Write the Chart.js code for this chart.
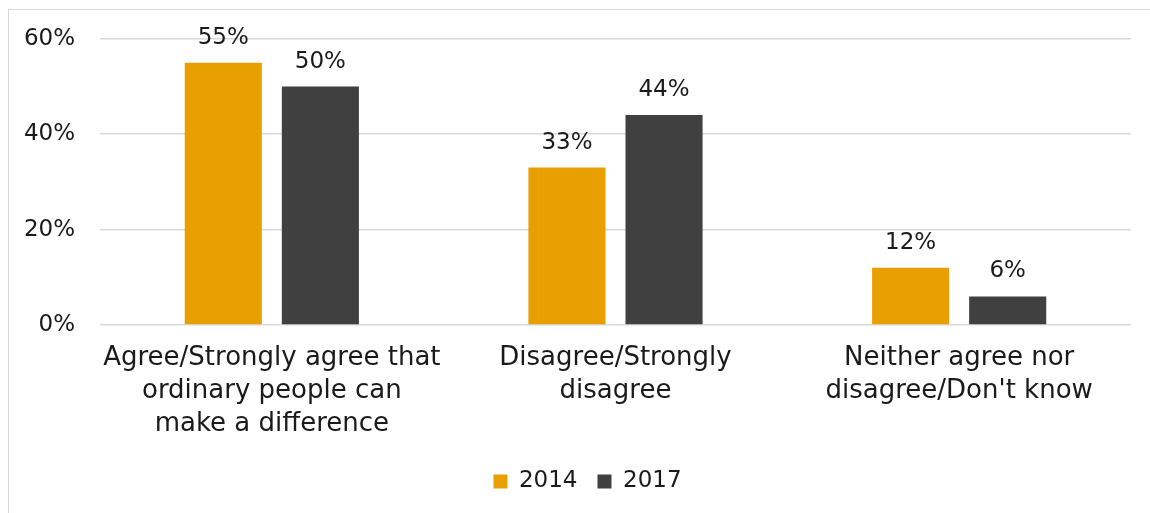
<!DOCTYPE html>
<html>
<head>
<meta charset="utf-8">
<title>Ordinary people can make a difference</title>
<script src="https://cdn.jsdelivr.net/npm/chart.js@4.4.1/dist/chart.umd.min.js"></script>
<style>
    html, body { margin: 0; padding: 0; background: #fff; overflow: hidden; width: 1150px; height: 513px; }
    .edge { position: absolute; background: #d9d9d9; }
    #edgeTop { left: 8px; top: 9px; width: 1142px; height: 1px; }
    #edgeLeft { left: 8px; top: 9px; width: 1px; height: 504px; }
    #wrap { position: absolute; left: 0; top: 0; width: 1150px; height: 513px; }
</style>
</head>
<body>
<div class="edge" id="edgeTop"></div>
<div class="edge" id="edgeLeft"></div>
<div id="wrap"><canvas id="barChart"></canvas></div>
<script>
    // categories and values (percent)
    var categories = [
        ['Agree/Strongly agree that', 'ordinary people can', 'make a difference'],
        ['Disagree/Strongly', 'disagree'],
        ['Neither agree nor', "disagree/Don't know"]
    ];
    var values2014 = [55, 33, 12];
    var values2017 = [50, 44, 6];
    var yTicks = [0, 20, 40, 60];

    var fontFamily = '"DejaVu Sans", sans-serif';

    // labels above each bar
    var barLabels = {
        id: 'barLabels',
        afterDatasetsDraw: function (chart) {
            var ctx = chart.ctx;
            ctx.save();
            ctx.font = '23px ' + fontFamily;
            ctx.fillStyle = '#1a1a1a';
            ctx.textAlign = 'center';
            ctx.textBaseline = 'alphabetic';
            chart.data.datasets.forEach(function (ds, i) {
                chart.getDatasetMeta(i).data.forEach(function (bar, j) {
                    ctx.fillText(ds.data[j] + '%', bar.x, bar.y - 19);
                });
            });
            ctx.restore();
        }
    };

    // legend sits a little right of centre in the original
    var legendShift = {
        id: 'legendShift',
        afterLayout: function (chart) {
            chart.legend.left += 22;
            chart.legend.right += 22;
        }
    };

    var ctx = document.getElementById('barChart').getContext('2d');
    var chart = new Chart(ctx, {
        type: 'bar',
        data: {
            labels: categories,
            datasets: [
                { label: '2014', data: values2014, backgroundColor: '#e8a000', borderWidth: 0 },
                { label: '2017', data: values2017, backgroundColor: '#404040', borderWidth: 0 }
            ]
        },
        options: {
            responsive: true,
            maintainAspectRatio: false,
            animation: false,
            devicePixelRatio: 1,
            categoryPercentage: 0.565,
            barPercentage: 0.794,
            layout: { padding: { top: 38, right: 19, left: 0, bottom: 10 } },
            plugins: {
                legend: {
                    position: 'bottom',
                    labels: {
                        boxWidth: 14,
                        boxHeight: 14,
                        padding: 20,
                        color: '#1a1a1a',
                        font: { family: fontFamily, size: 23 }
                    }
                },
                tooltip: { enabled: false }
            },
            scales: {
                x: {
                    grid: { display: false },
                    border: { display: false },
                    ticks: {
                        color: '#1a1a1a',
                        padding: 9,
                        maxRotation: 0,
                        font: { family: fontFamily, size: 26, lineHeight: 1.27 }
                    },
                    afterFit: function (scale) { scale.height = 125; }
                },
                y: {
                    min: 0,
                    max: 60,
                    border: { display: false },
                    grid: { color: '#d9d9d9', lineWidth: 1.5, drawTicks: false },
                    afterBuildTicks: function (scale) {
                        scale.ticks = yTicks.map(function (v) { return { value: v }; });
                    },
                    ticks: {
                        color: '#1a1a1a',
                        padding: 25,
                        font: { family: fontFamily, size: 23 },
                        callback: function (v) { return v + '%'; }
                    },
                    afterFit: function (scale) { scale.width = 100; }
                }
            }
        },
        plugins: [barLabels, legendShift]
    });
</script>
</body>
</html>
